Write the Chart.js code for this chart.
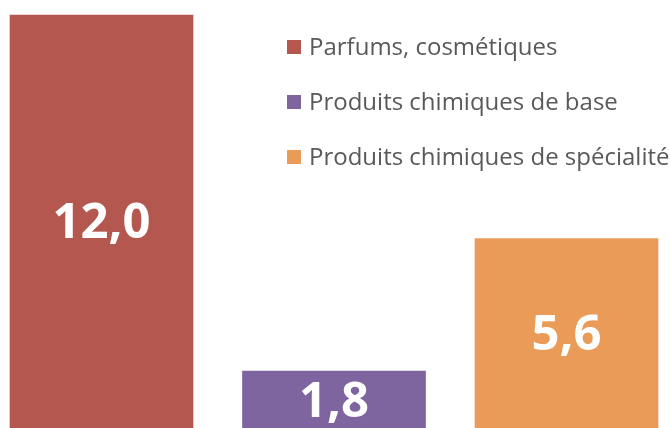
<!DOCTYPE html>
<html>
<head>
<meta charset="utf-8">
<script src="https://cdn.jsdelivr.net/npm/chart.js@4"></script>
<style>
  html, body { margin: 0; padding: 0; background: #fff; overflow: hidden; }
  #wrap { width: 670px; height: 440px; }
</style>
</head>
<body>
<div id="wrap"><canvas id="chart" width="670" height="440"></canvas></div>
<script>
// categories and values
const categories = ['Parfums, cosmétiques', 'Produits chimiques de base', 'Produits chimiques de spécialité'];
const values = [12.0, 1.8, 5.6];
const colors = ['#B3574F', '#7F65A0', '#EA9B57'];

// value label in the middle of each bar
const barLabels = {
    id: 'barLabels',
    afterDatasetsDraw(chart) {
        const ctx = chart.ctx;
        const meta = chart.getDatasetMeta(0);
        ctx.save();
        ctx.fillStyle = '#ffffff';
        ctx.font = 'bold 49px "Open Sans"';
        ctx.textAlign = 'center';
        ctx.textBaseline = 'middle';
        meta.data.forEach((bar, i) => {
            const txt = values[i].toFixed(1).replace('.', ',');
            ctx.fillText(txt, bar.x, (bar.y + bar.base) / 2);
        });
        ctx.restore();
    }
};

// legend drawn on top of the empty area on the right
const sideLegend = {
    id: 'sideLegend',
    afterDraw(chart, args, opts) {
        const ctx = chart.ctx;
        ctx.save();
        ctx.font = opts.font;
        ctx.textBaseline = 'middle';
        ctx.textAlign = 'left';
        chart.data.labels.forEach((label, i) => {
            const y = opts.y + i * opts.step;
            ctx.fillStyle = chart.data.datasets[0].backgroundColor[i];
            ctx.fillRect(opts.x, y - 7, 14, 14);
            ctx.fillStyle = '#595959';
            ctx.fillText(label, opts.x + 22, y + 1);
        });
        ctx.restore();
    }
};

const ctx = document.getElementById('chart').getContext('2d');
const chart = new Chart(ctx, {
    type: 'bar',
    data: {
        labels: categories,
        datasets: [{
            data: values,
            backgroundColor: colors,
            borderWidth: 0,
            barThickness: 183,
            clip: false
        }]
    },
    options: {
        responsive: false,
        animation: false,
        layout: { padding: { top: 15, bottom: 6, left: 101.5, right: 103.5 } },
        scales: {
            x: { display: false, offset: false },
            y: { display: false, min: 0, max: 12 }
        },
        plugins: {
            legend: { display: false },
            tooltip: { enabled: false },
            sideLegend: { x: 287, y: 47, step: 55, font: '24px "Open Sans"' }
        }
    },
    plugins: [barLabels, sideLegend]
});
</script>
</body>
</html>
